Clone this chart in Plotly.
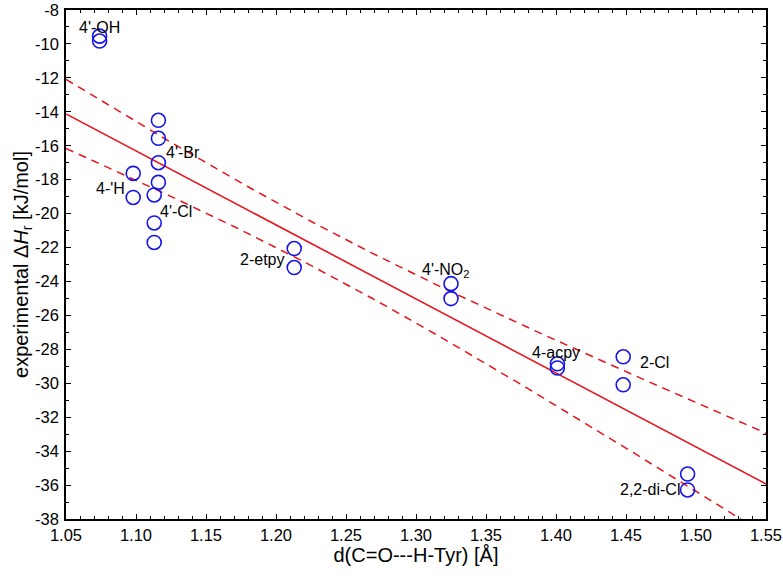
import numpy as np
import plotly.graph_objects as go

# ---- data ----
compounds = ["4'-OH", "4'-OH", "4'-Br", "4'-Br", "4'-Br", "4'-Br", "4-'H", "4-'H",
             "4'-Cl", "4'-Cl", "4'-Cl", "2-etpy", "2-etpy", "4'-NO2", "4'-NO2",
             "4-acpy", "4-acpy", "2-Cl", "2-Cl", "2,2-di-Cl", "2,2-di-Cl"]
d_CO_HTyr = [1.074, 1.074, 1.116, 1.116, 1.116, 1.116, 1.098, 1.098,
             1.113, 1.113, 1.113, 1.213, 1.213, 1.325, 1.325,
             1.401, 1.401, 1.448, 1.448, 1.494, 1.494]
dH_exp = [-9.54, -9.83, -14.5, -15.56, -17.0, -18.16, -17.63, -19.05,
          -18.9, -20.55, -21.7, -22.06, -23.18, -24.13, -25.01,
          -28.85, -29.1, -28.44, -30.09, -35.35, -36.29]

label_texts = ["4'-OH", "4'-Br", "4-'H", "4'-Cl", "2-etpy", "4'-NO<sub>2</sub>",
               "4-acpy", "2-Cl", "2,2-di-Cl"]
label_point_index = [0, 3, 6, 8, 11, 13, 15, 17, 20]

x_ticks = [1.05, 1.10, 1.15, 1.20, 1.25, 1.30, 1.35, 1.40, 1.45, 1.50, 1.55]
y_ticks = list(range(-38, -7, 2))

# ---- linear regression with 95% confidence band of the mean ----
x = np.array(d_CO_HTyr)
y = np.array(dH_exp)
n = len(x)
slope, intercept = np.polyfit(x, y, 1)
resid = y - (slope * x + intercept)
s = np.sqrt(np.sum(resid ** 2) / (n - 2))
t_crit = 2.093  # t(0.975, df=19)
xm = x.mean()
sxx = np.sum((x - xm) ** 2)
xf = np.linspace(x_ticks[0], x_ticks[-1], 200)
yf = slope * xf + intercept
half = t_crit * s * np.sqrt(1.0 / n + (xf - xm) ** 2 / sxx)

red = "#e8141c"
blue = "#1515e6"

fig = go.Figure()
fig.add_trace(go.Scatter(x=xf, y=yf + half, mode="lines",
                         line=dict(color=red, width=1.5, dash="8px,6px"), hoverinfo="skip"))
fig.add_trace(go.Scatter(x=xf, y=yf - half, mode="lines",
                         line=dict(color=red, width=1.5, dash="8px,6px"), hoverinfo="skip"))
fig.add_trace(go.Scatter(x=xf, y=yf, mode="lines",
                         line=dict(color=red, width=1.6), hoverinfo="skip"))
fig.add_trace(go.Scatter(x=d_CO_HTyr, y=dH_exp, mode="markers", text=compounds,
                         marker=dict(symbol="circle-open", size=14,
                                     line=dict(color=blue, width=1.6), color=blue)))

# label placement (pixel offsets from the anchoring point)
label_offsets = [(0, 9, "center"), (6, -14, "left"), (-23, -15, "center"),
                 (22, -17, "center"), (-8, -11, "right"), (-5, 13, "center"),
                 (-1, 11, "center"), (15, -6, "left"), (-6, 0, "right")]
for txt, idx, (dx, dy, xa) in zip(label_texts, label_point_index, label_offsets):
    fig.add_annotation(x=d_CO_HTyr[idx], y=dH_exp[idx], text=txt, showarrow=False,
                       xanchor=xa, yanchor="middle", xshift=dx, yshift=dy,
                       font=dict(size=16, color="black"))

font_family = "Liberation Sans, Arial, sans-serif"
axis_common = dict(showgrid=False, zeroline=False, showline=True, linecolor="black",
                   linewidth=1.5, mirror="allticks", ticks="inside", ticklen=5,
                   tickwidth=1.2, tickcolor="black", automargin=False,
                   tickfont=dict(size=16.5, color="black", family=font_family))

fig.update_layout(
    width=783, height=585,
    margin=dict(l=66, r=17, t=10, b=66),
    paper_bgcolor="white", plot_bgcolor="white",
    showlegend=False,
    font=dict(family=font_family, color="black"),
    xaxis=dict(range=[x_ticks[0], x_ticks[-1]], tickvals=x_ticks,
               ticktext=[f"{v:.2f}" for v in x_ticks],
               minor=dict(ticks="inside", ticklen=3, dtick=0.01, tick0=1.05,
                          tickcolor="black", tickwidth=1),
               title=dict(text="d(C=O---H-Tyr) [Å]", font=dict(size=20), standoff=4),
               **axis_common),
    yaxis=dict(range=[y_ticks[0], y_ticks[-1]], tickvals=y_ticks,
               ticktext=[str(v) for v in y_ticks], ticklabelstandoff=2,
               minor=dict(ticks="inside", ticklen=3, dtick=1, tick0=-38,
                          tickcolor="black", tickwidth=1),
               title=dict(text="experimental Δ<i>H</i><sub>r</sub> [kJ/mol]",
                          font=dict(size=20), standoff=0),
               **axis_common),
)

fig.write_html("out.html", config={"displayModeBar": False},
               post_script="document.body.style.margin='0';")
